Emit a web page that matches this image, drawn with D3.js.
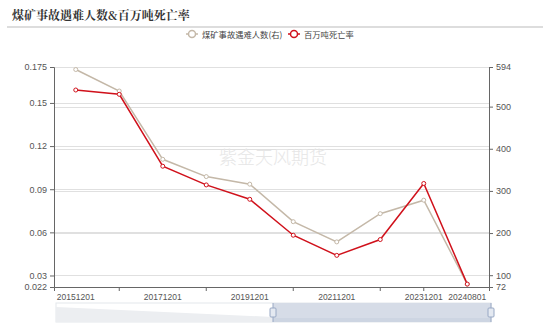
<!DOCTYPE html>
<html><head><meta charset="utf-8">
<script src="https://cdn.jsdelivr.net/npm/d3@7"></script>
<style>body{margin:0;background:#fff}svg{display:block;font-family:"Noto Sans CJK SC","Noto Sans",sans-serif}</style>
</head><body><svg id="c" width="550" height="327"></svg>
<script>
const categories = ["20151201","20161201","20171201","20181201","20191201","20201201","20211201","20221201","20231201","20240801"];
const deaths = [588, 537, 375, 334, 316, 227, 179, 246, 278, 79];
const rate = [0.159, 0.156, 0.106, 0.093, 0.083, 0.058, 0.044, 0.055, 0.094, 0.024];
const leftTicks = [0.022, 0.03, 0.06, 0.09, 0.12, 0.15, 0.175];
const rightTicks = [72, 100, 200, 300, 400, 500, 594];
const xLabels = ["20151201","20171201","20191201","20211201","20231201","20240801"];
const xTickCats = ["20161201","20181201","20201201","20221201","20231201"];

const svg = d3.select("#c");
const L = 54, R = 489, T = 67, B = 287;
const x = d3.scaleBand().domain(categories).range([L, R]);
const yL = d3.scaleLinear().domain([0.022, 0.175]).range([B, T]);
const yR = d3.scaleLinear().domain([72, 594]).range([B, T]);
const numFont = "'Liberation Sans','Noto Sans',sans-serif";

// title
svg.append("text").attr("x", 12).attr("y", 20).text("煤矿事故遇难人数&百万吨死亡率")
  .attr("font-size", 12).attr("font-weight", "bold").attr("fill", "#333")
  .attr("font-family", "'Noto Serif CJK SC','Noto Sans CJK SC',serif");
svg.append("rect").attr("x", 7).attr("y", 26).attr("width", 536).attr("height", 2).attr("fill", "#ddd");

// grid
const g = svg.append("g");
leftTicks.forEach(v => g.append("line").attr("x1", L).attr("x2", R).attr("y1", Math.round(yL(v))+0.5).attr("y2", Math.round(yL(v))+0.5).attr("stroke", "#e0e0e0"));
rightTicks.forEach(v => g.append("line").attr("x1", L).attr("x2", R).attr("y1", Math.round(yR(v))+0.5).attr("y2", Math.round(yR(v))+0.5).attr("stroke", "#e0e0e0"));

// watermark
svg.append("text").attr("x", 273).attr("y", 164).attr("text-anchor", "middle").text("紫金天风期货")
  .attr("font-size", 18).attr("font-weight", 300).attr("fill", "#e6e6e6");

// axes
const axCol = "#666";
const aL = svg.append("g").attr("transform", `translate(${L},0)`)
  .call(d3.axisLeft(yL).tickValues(leftTicks).tickFormat(d => String(d)).tickSizeOuter(0).tickSize(4));
const aR = svg.append("g").attr("transform", `translate(${R},0)`)
  .call(d3.axisRight(yR).tickValues(rightTicks).tickSizeOuter(0).tickSize(4));
const aX = svg.append("g").attr("transform", `translate(0,${B})`)
  .call(d3.axisBottom(x).tickValues(xTickCats).tickFormat("").tickSizeOuter(0).tickSize(4));
[aL, aR, aX].forEach(a => {
  a.selectAll("path").attr("stroke", axCol);
  a.selectAll("line").attr("stroke", axCol);
  a.selectAll("text").attr("fill", "#555").attr("font-size", 9).attr("font-family", numFont);
});
xLabels.forEach(c => svg.append("text").attr("x", x(c) + x.bandwidth()/2).attr("y", B + 13)
  .attr("text-anchor", "middle").text(c).attr("font-size", 8.5).attr("fill", "#555")
  .attr("font-family", numFont));

// series
const cx = c => x(c) + x.bandwidth()/2;
const grayC = "#c4b8a8", redC = "#d0111b";
const lineG = d3.line().x((d,i) => cx(categories[i])).y(d => yR(d));
const lineR = d3.line().x((d,i) => cx(categories[i])).y(d => yL(d));
svg.append("path").attr("d", lineG(deaths)).attr("fill", "none").attr("stroke", grayC).attr("stroke-width", 1.5);
svg.append("path").attr("d", lineR(rate)).attr("fill", "none").attr("stroke", redC).attr("stroke-width", 1.5);
svg.selectAll(".pg").data(deaths).join("circle").attr("cx", (d,i) => cx(categories[i])).attr("cy", d => yR(d))
  .attr("r", 2).attr("fill", "#fff").attr("stroke", grayC);
svg.selectAll(".pr").data(rate).join("circle").attr("cx", (d,i) => cx(categories[i])).attr("cy", d => yL(d))
  .attr("r", 2).attr("fill", "#fff").attr("stroke", redC);

// legend
const leg = [{name: "煤矿事故遇难人数(右)", c: grayC, x: 186}, {name: "百万吨死亡率", c: redC, x: 288}];
leg.forEach(l => {
  svg.append("line").attr("x1", l.x).attr("x2", l.x + 12).attr("y1", 34).attr("y2", 34).attr("stroke", l.c).attr("stroke-width", 1.5);
  svg.append("circle").attr("cx", l.x + 6).attr("cy", 34).attr("r", 3.5).attr("fill", "#fff").attr("stroke", l.c).attr("stroke-width", 1.5);
  svg.append("text").attr("x", l.x + 16).attr("y", 37.5).text(l.name).attr("font-size", 8.3).attr("fill", "#444");
});

// dataZoom slider
const zx0 = 56, zx1 = 491, zy0 = 303, zy1 = 322;
svg.append("rect").attr("x", zx0).attr("y", zy0).attr("width", zx1 - zx0).attr("height", zy1 - zy0)
  .attr("fill", "none").attr("stroke", "#e4e7ec");
svg.append("path").attr("d", `M${zx0},${zy0+4} L${273},${zy1-5} L${273},${zy1} L${zx0},${zy1} Z`).attr("fill", "#eceef1");
svg.append("rect").attr("x", 273).attr("y", zy0).attr("width", zx1 - 273).attr("height", zy1 - zy0).attr("fill", "#d6dce7");
svg.append("rect").attr("x", 273).attr("y", zy1 - 4).attr("width", zx1 - 273).attr("height", 4).attr("fill", "#cdd5e2");
[273, 491].forEach(hx => {
  svg.append("line").attr("x1", hx).attr("x2", hx).attr("y1", zy0).attr("y2", zy1).attr("stroke", "#98a8c4");
  svg.append("rect").attr("x", hx - 3).attr("y", zy0 + 5).attr("width", 6).attr("height", 9).attr("rx", 1)
    .attr("fill", "#e4e9f1").attr("stroke", "#98a8c4");
});
</script></body></html>
